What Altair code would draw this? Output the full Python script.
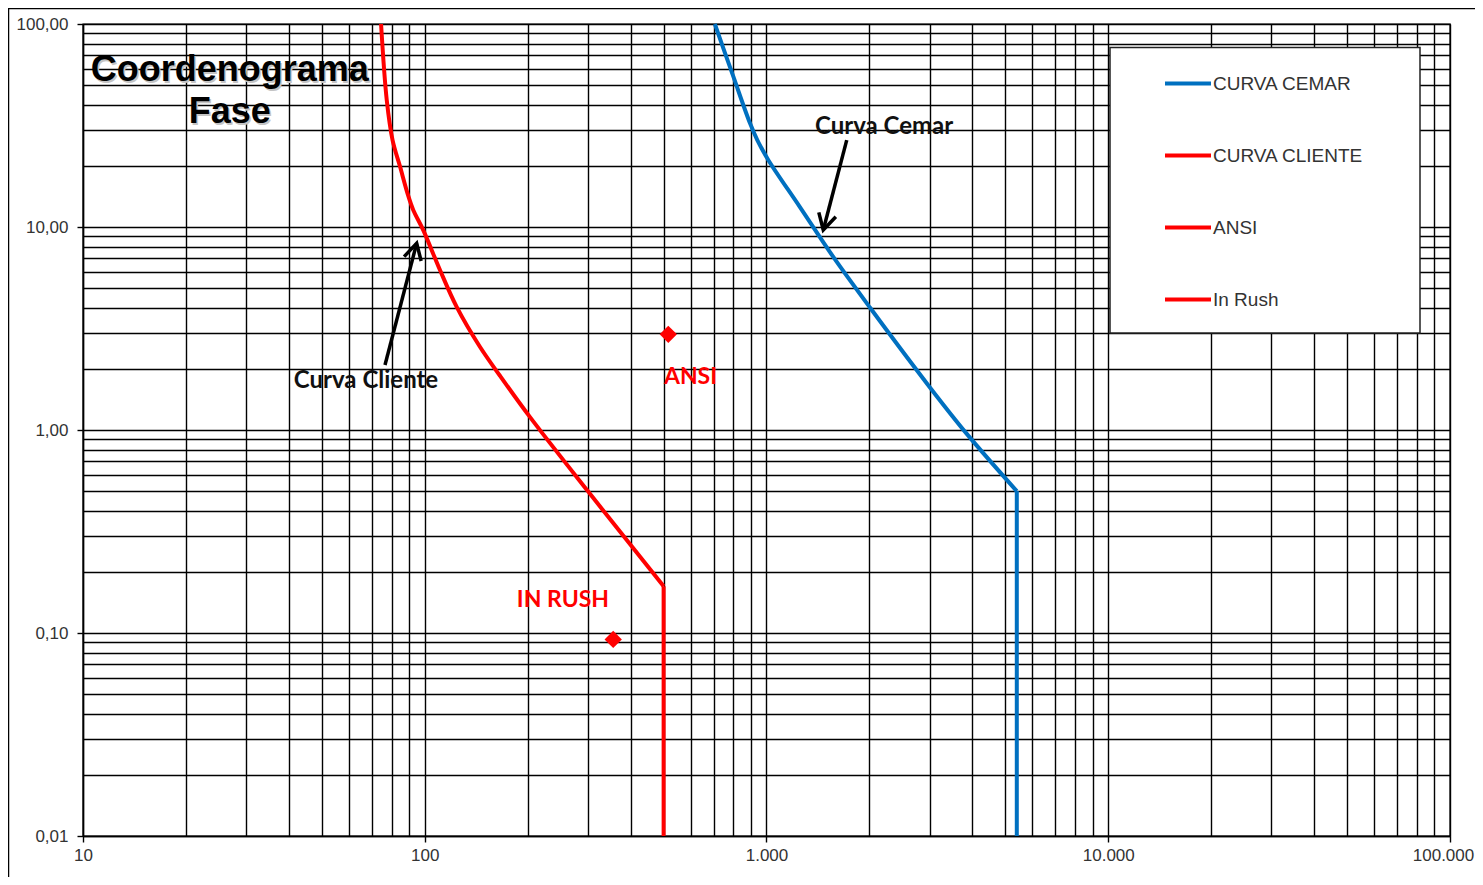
import json
import altair as alt
import pandas as pd

# ---------------- data ----------------
cliente_i = [74.5, 77.4, 80.5, 84.7, 89.3, 92.6, 99, 110.8, 124, 145, 166, 203, 300, 500, 500]
cliente_t = [100, 42.3, 26.8, 19.8, 14.4, 12.1, 9.66, 6.14, 4.04, 2.57, 1.85, 1.16, 0.5, 0.17, 0.01]
cemar_i = [706, 800, 895, 940, 1012, 1250, 1570, 2010, 3000, 3850, 5400, 5400]
cemar_t = [100, 55, 32.4, 26.8, 21.4, 12.6, 7.1, 4.0, 1.63, 0.96, 0.5, 0.01]
ansi_i, ansi_t = [516], [2.96]
inrush_i, inrush_t = [356], [0.093]

series_names = ["CURVA CEMAR", "CURVA CLIENTE", "ANSI", "In Rush"]
series_colors = ["#0070C0", "#FF0000", "#FF0000", "#FF0000"]

x_major = [10, 100, 1000, 10000, 100000]
x_labels = ["10", "100", "1.000", "10.000", "100.000"]
y_major = [0.01, 0.1, 1, 10, 100]
y_labels = ["0,01", "0,10", "1,00", "10,00", "100,00"]

title_lines = ["Coordenograma", "Fase"]
title_x = [26.9, 26.9]
title_y = [59.3, 36.8]

black_notes = ["Curva Cliente", "Curva Cemar"]
black_notes_x = [67.3, 2208]
black_notes_y = [1.74, 31.1]
red_notes = ["ANSI", "IN RUSH"]
red_notes_x = [501, 186]
red_notes_y = [1.82, 0.1455]

arrow_cliente_x = [76.5, 94.7]
arrow_cliente_y = [2.09, 8.31]
arrow_cemar_x = [1717, 1466]
arrow_cemar_y = [26.8, 9.66]

# ---------------- helpers ----------------
def minor_values(major):
    vals = []
    for m in major[:-1]:
        for d in range(1, 10):
            vals.append(round(m * d, 6))
    vals.append(major[-1])
    return vals

def label_expr(values, labels):
    parts = [f"datum.value == {v} ? '{l}'" for v, l in zip(values, labels)]
    return " : ".join(parts) + " : ''"

x_grid = minor_values(x_major)
y_grid = minor_values(y_major)

W, H = 1367, 812
FONT = "Liberation Sans"

x_scale = alt.Scale(type="log", domain=[10, 100000], nice=False)
y_scale = alt.Scale(type="log", domain=[0.01, 100], nice=False)

x_axis = alt.Axis(
    values=x_grid, labelExpr=label_expr(x_major, x_labels), title=None,
    grid=True, gridColor="black", gridWidth=1.4, gridOpacity=1,
    domainColor="black", domainWidth=1.4,
    tickColor="black", tickSize=6, tickWidth=1.4,
    tickOpacity={"condition": {"test": f"indexof({json.dumps(x_major)}, datum.value) >= 0", "value": 1}, "value": 0},
    labelOffset={"condition": {"test": f"datum.value == {x_major[-1]}", "value": -7}, "value": 0},
    labelFont=FONT, labelFontSize=17, labelColor="#333333", labelPadding=5,
    labelFlush=False, labelOverlap=False,
)
y_axis = alt.Axis(
    values=y_grid, labelExpr=label_expr(y_major, y_labels), title=None,
    grid=True, gridColor="black", gridWidth=1.4, gridOpacity=1,
    domainColor="black", domainWidth=1.4,
    tickColor="black", tickSize=6, tickWidth=1.4,
    tickOpacity={"condition": {"test": f"indexof({json.dumps(y_major)}, datum.value) >= 0", "value": 1}, "value": 0},
    labelFont=FONT, labelFontSize=17, labelColor="#333333", labelPadding=9,
    labelFlush=False, labelOverlap=False,
)

# ---------------- tables ----------------
def curve_rows(name, xs, ys):
    out = []
    n = len(xs)
    for i, (a, b) in enumerate(zip(xs, ys)):
        if i < n - 1:
            out.append({"serie": name, "I": a, "t": b, "idx": i, "part": "curve"})
        if i >= n - 2:
            out.append({"serie": name, "I": a, "t": b, "idx": i, "part": "vertical"})
    return out

lines_df = pd.DataFrame(curve_rows("CURVA CEMAR", cemar_i, cemar_t)
                        + curve_rows("CURVA CLIENTE", cliente_i, cliente_t))

points_df = pd.DataFrame({"I": ansi_i + inrush_i, "t": ansi_t + inrush_t})

title_df = pd.DataFrame({"I": title_x, "t": title_y, "txt": title_lines})
black_df = pd.DataFrame({"I": black_notes_x, "t": black_notes_y, "txt": black_notes})
red_df = pd.DataFrame({"I": red_notes_x, "t": red_notes_y, "txt": red_notes})

arrows_df = pd.DataFrame({
    "arrow": ["cliente", "cliente", "cemar", "cemar"],
    "I": arrow_cliente_x + arrow_cemar_x,
    "t": arrow_cliente_y + arrow_cemar_y,
    "idx": [0, 1, 0, 1],
})
head_cliente = pd.DataFrame({"I": arrow_cliente_x[-1:], "t": arrow_cliente_y[-1:]})
head_cemar = pd.DataFrame({"I": arrow_cemar_x[-1:], "t": arrow_cemar_y[-1:]})

X = alt.X("I:Q", scale=x_scale, axis=x_axis)
Y = alt.Y("t:Q", scale=y_scale, axis=y_axis)
Xn = alt.X("I:Q", scale=x_scale)
Yn = alt.Y("t:Q", scale=y_scale)

color_enc = alt.Color(
    "serie:N",
    scale=alt.Scale(domain=series_names, range=series_colors),
    legend=alt.Legend(
        orient="none", legendX=1027, legendY=21.5, title=None,
        symbolType="stroke", symbolSize=2116, symbolStrokeWidth=4,
        labelFont=FONT, labelFontSize=19, labelColor="#333333",
        labelLimit=400, labelOffset=0,
        padding=13, symbolOffset=40, rowPadding=37,
    ),
)

base_lines = alt.Chart(lines_df)
lines_curve = base_lines.transform_filter(alt.datum.part == "curve").mark_line(
    strokeWidth=4, interpolate="catmull-rom"
).encode(x=X, y=Y, color=color_enc, order=alt.Order("idx:Q"))
lines_vert = base_lines.transform_filter(alt.datum.part == "vertical").mark_line(
    strokeWidth=4
).encode(x=X, y=Y, color=color_enc, order=alt.Order("idx:Q"))

points = alt.Chart(points_df).mark_point(
    shape="diamond", filled=True, color="#FF0000", size=300, opacity=1
).encode(x=Xn, y=Yn)

title_shadow = alt.Chart(title_df).mark_text(
    font=FONT, fontSize=36, fontWeight="bold", color="#c4c4c4", dx=1.5, dy=1.5
).encode(x=Xn, y=Yn, text="txt:N")
title = alt.Chart(title_df).mark_text(
    font=FONT, fontSize=36, fontWeight="bold", color="black"
).encode(x=Xn, y=Yn, text="txt:N")

black_notes_layer = alt.Chart(black_df).mark_text(
    font="Lato", fontSize=24, fontWeight="bold", color="#111111"
).encode(x=Xn, y=Yn, text="txt:N")
red_notes_layer = alt.Chart(red_df).mark_text(
    font="Lato", fontSize=23, fontWeight="bold", color="#FF0000", align="left"
).encode(x=Xn, y=Yn, text="txt:N")

arrow_lines = alt.Chart(arrows_df).mark_line(color="black", strokeWidth=3.5).encode(
    x=Xn, y=Yn, detail="arrow:N", order=alt.Order("idx:Q")
)
HEAD = "M-0.55,1L0,0L0.55,1"
head1 = alt.Chart(head_cliente).mark_point(
    shape=HEAD, filled=False, stroke="black", strokeWidth=3.5, size=1024, angle=14.6, opacity=1
).encode(x=Xn, y=Yn)
head2 = alt.Chart(head_cemar).mark_point(
    shape=HEAD, filled=False, stroke="black", strokeWidth=3.5, size=1024, angle=194.6, opacity=1
).encode(x=Xn, y=Yn)

one = pd.DataFrame({"a": [0]})
frame = alt.Chart(one).mark_rect(
    filled=False, stroke="black", strokeWidth=1.5
).encode(
    x=alt.value(-74.5), x2=alt.value(W + 60),
    y=alt.value(-15.5), y2=alt.value(H + 80),
)
legend_box = alt.Chart(one).mark_rect(
    fill="white", stroke="#222222", strokeWidth=1.5
).encode(
    x=alt.value(1027), x2=alt.value(1337),
    y=alt.value(23.5), y2=alt.value(309),
)

chart = alt.layer(
    frame, legend_box, lines_curve, lines_vert, arrow_lines, head1, head2, points,
    title_shadow, title, black_notes_layer, red_notes_layer,
).properties(
    width=W, height=H,
    autosize=alt.AutoSizeParams(type="none"),
    padding={"left": 75, "top": 16, "right": 25, "bottom": 41},
    background="white",
).configure_view(stroke="black", strokeWidth=1.4)

chart.save("out.html", embed_options={"renderer": "svg", "actions": False})
